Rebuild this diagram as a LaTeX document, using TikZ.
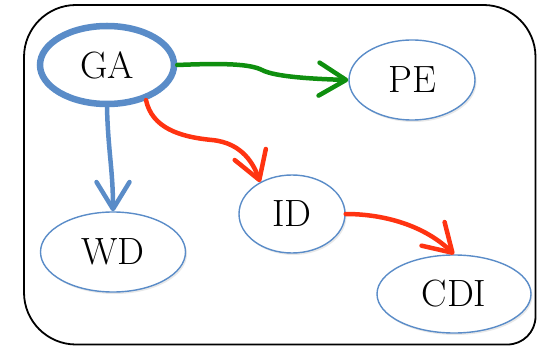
\documentclass[tikz,border=0pt]{standalone}
\usepackage{fontspec}
\usetikzlibrary{shapes.geometric,arrows.meta,shadows}

\definecolor{nodeblue}{HTML}{5A8CC8}
\definecolor{edgegreen}{HTML}{0F8F0F}
\definecolor{edgered}{HTML}{FF3311}

\tikzset{
  state/.style={ellipse, draw=nodeblue, line width=1.4pt, fill=white, inner sep=0pt,
    font=\fontsize{38}{42}\selectfont,
    drop shadow={shadow xshift=1.5pt, shadow yshift=-2pt, opacity=0.18}},
  mainstate/.style={state, line width=6.5pt},
  flow/.style={line width=4.5pt, line cap=round,
    -{Straight Barb[length=27pt,width=33pt,round]}},
}

\begin{document}
\begin{tikzpicture}[x=1pt,y=-1pt]
  \useasboundingbox (0,0) rectangle (537,347);

  % frame with rounded corners
  \draw[line width=1.8pt] (24,175) [rounded corners=52] -- (24,5) -- (535.5,5)
    [rounded corners=28] -- (535.5,344.5) [rounded corners=52] -- (24,344.5) -- cycle;

  % states
  \node[mainstate, minimum width=134pt, minimum height=78pt] (GA) at (107,65) {GA};
  \node[state, minimum width=126pt, minimum height=80pt] (PE) at (412,80) {PE};
  \node[state, minimum width=145pt, minimum height=80pt] (WD) at (113,252) {WD};
  \node[state, minimum width=106pt, minimum height=78pt] (ID) at (292,214) {ID};
  \node[state, minimum width=154pt, minimum height=78pt] (CDI) at (454,294) {CDI};

  % transitions
  \draw[flow, edgegreen] (GA.east) .. controls (225,63) and (250,64) .. (262,70)
    .. controls (275,77) and (315,79) .. (PE.west);
  \draw[flow, nodeblue] (GA.south) .. controls (108,150) and (113,170) .. (WD.north);
  \draw[flow, edgered] (GA.-42) .. controls (152,128) and (180,137) .. (212,140)
    .. controls (243,143) and (254,165) .. (ID.135);
  \draw[flow, edgered] (ID.east) .. controls (385,214) and (425,226) .. (CDI.north);
\end{tikzpicture}
\end{document}
